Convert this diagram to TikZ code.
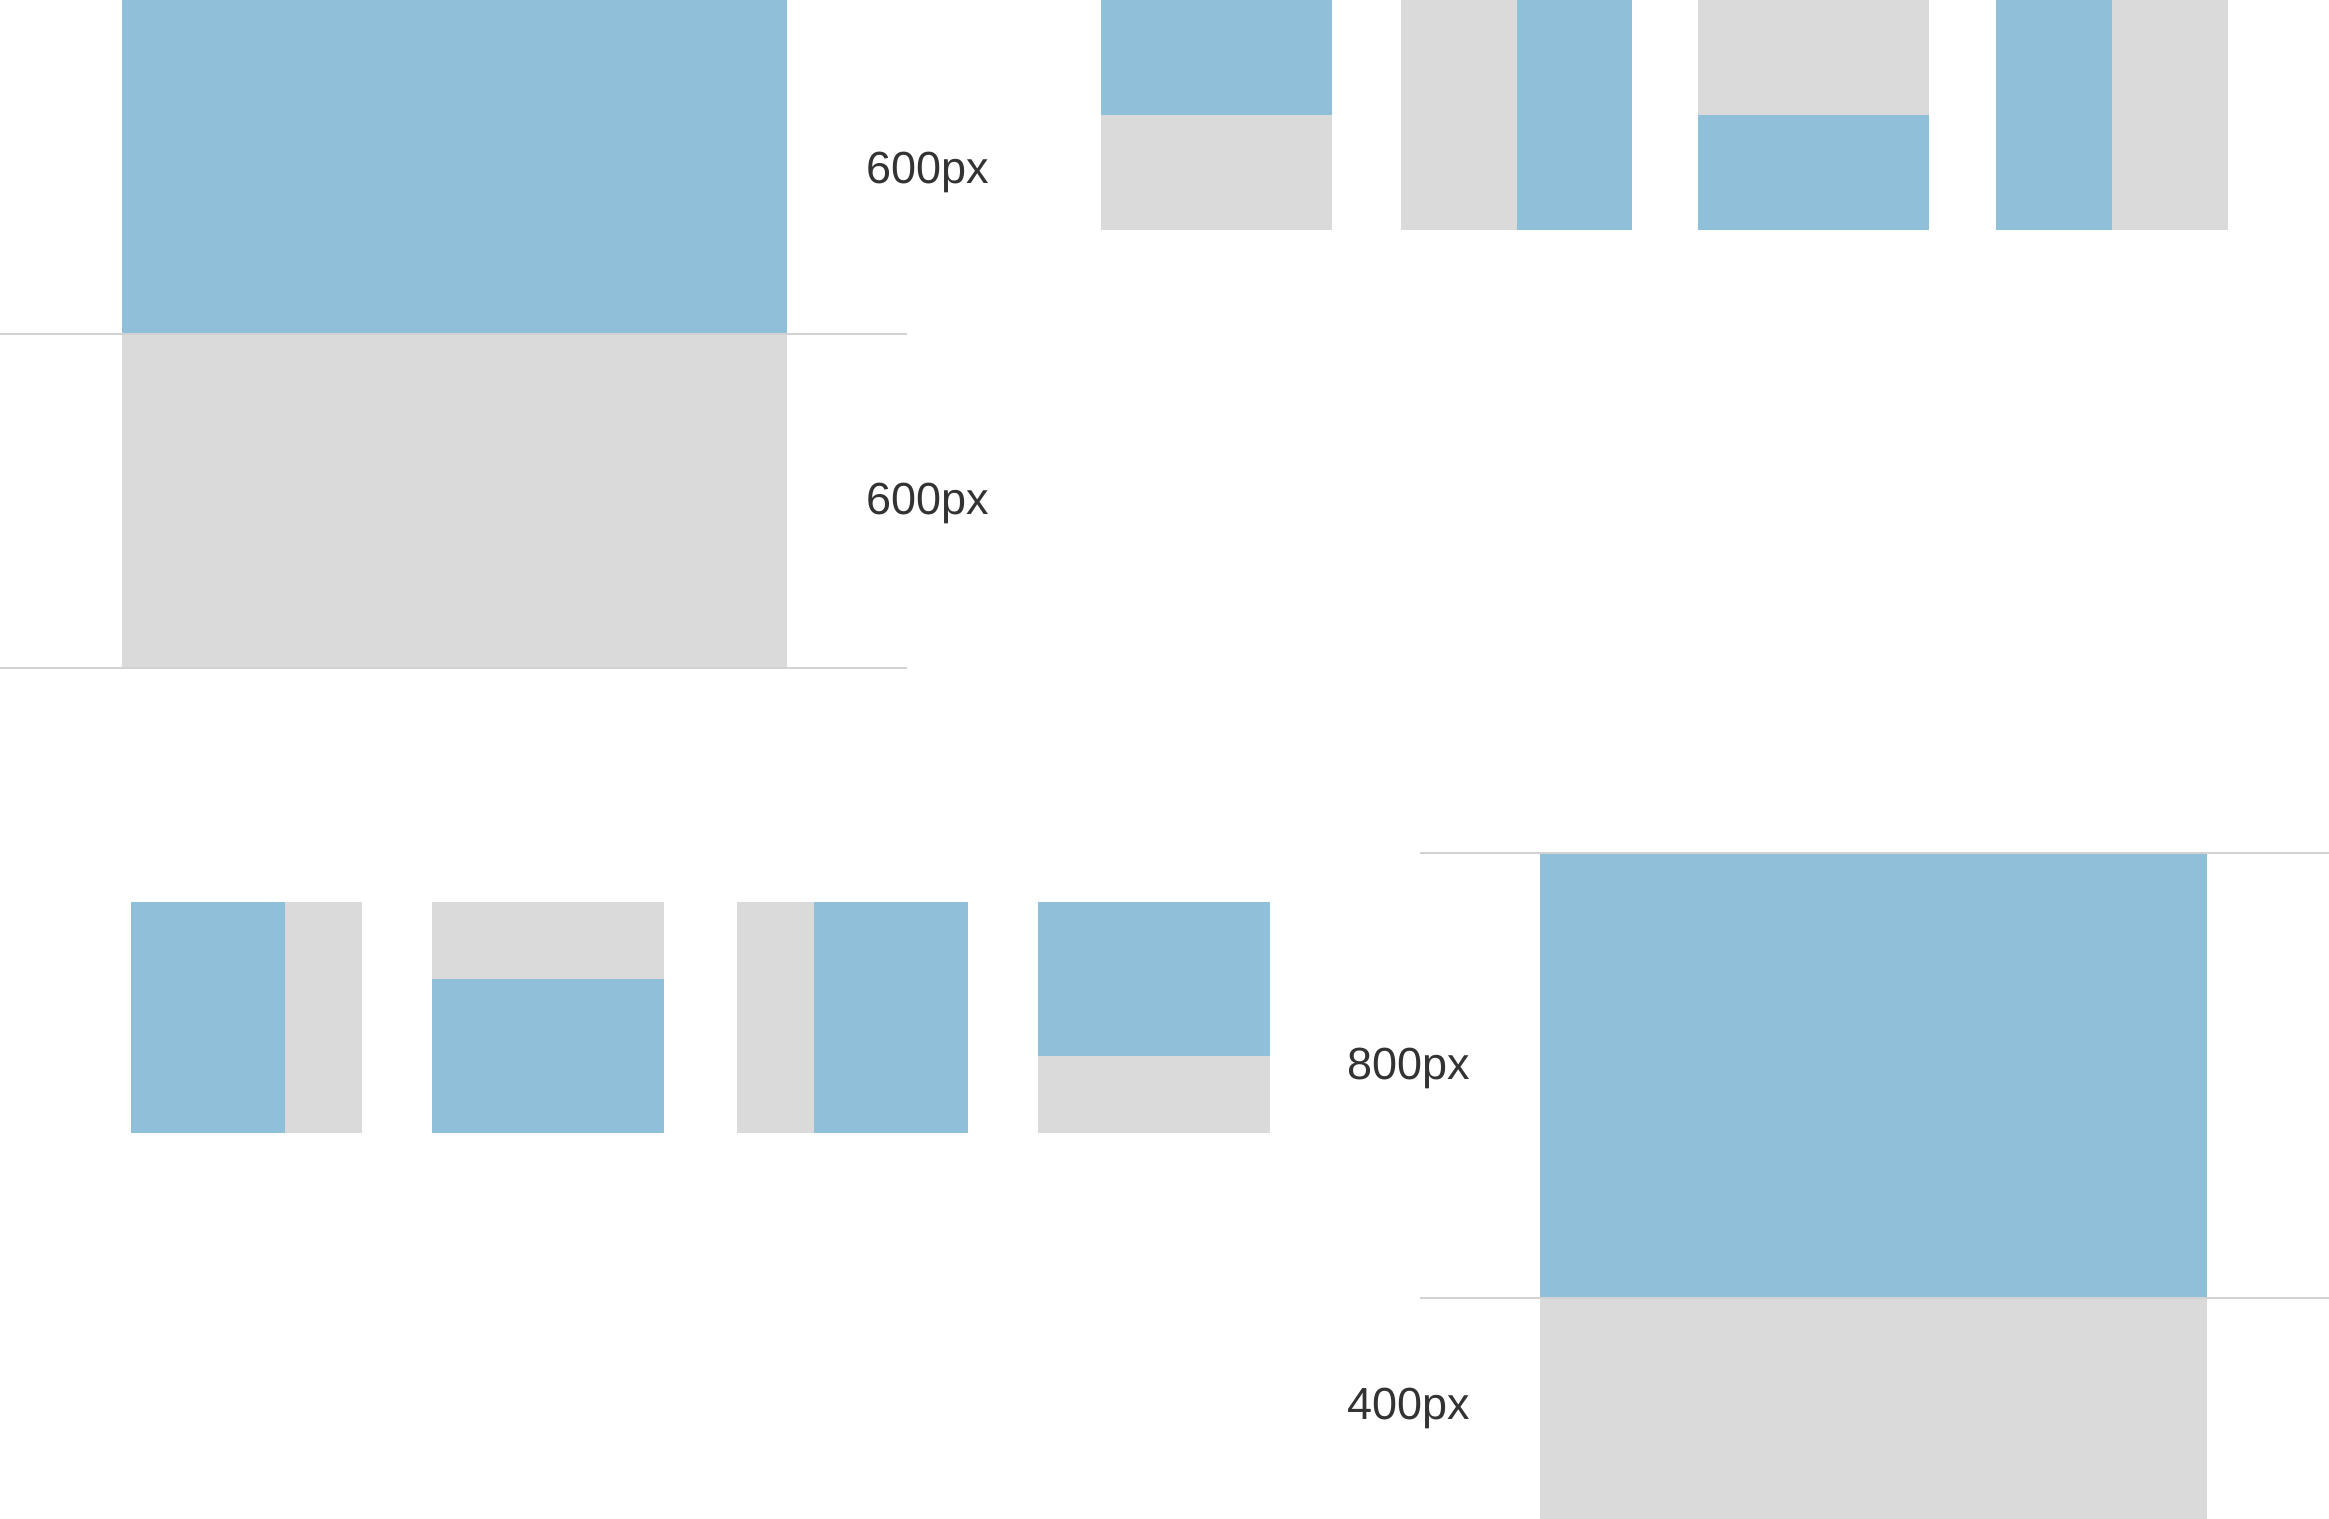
\documentclass[tikz,border=0pt]{standalone}
\usepackage{fontspec}
\setmainfont{Liberation Sans}
\usepackage{xcolor}
\definecolor{boxblue}{HTML}{8FBFD9}
\definecolor{boxgrey}{HTML}{DADADA}
\definecolor{ruleline}{HTML}{D2D2D2}
\definecolor{labelink}{HTML}{333333}

\begin{document}
\begin{tikzpicture}[x=0.01cm, y=-0.01cm,
                    every node/.style={labelink, inner sep=0pt, font=\fontsize{12.8}{14}\selectfont},
                    part/.style={fill=boxblue},
                    rest/.style={fill=boxgrey},
                    guide/.style={ruleline, line width=0.7pt}]

  \useasboundingbox (0,0) rectangle (2329,1519);

  %% large box, split 600 / 600
  \fill[part] (122,0) rectangle (787,334);
  \fill[rest] (122,334) rectangle (787,668);
  \draw[guide] (0,334) -- (907,334);
  \draw[guide] (0,668) -- (907,668);
  \node[anchor=west] (upperA) at (866,172) {600px};
  \node[anchor=west] (lowerA) at (866,503) {600px};

  %% small boxes, top row (halves)
  \fill[part] (1101,0) rectangle (1332,115);
  \fill[rest] (1101,115) rectangle (1332,230);

  \fill[rest] (1401,0) rectangle (1517,230);
  \fill[part] (1517,0) rectangle (1632,230);

  \fill[rest] (1698,0) rectangle (1929,115);
  \fill[part] (1698,115) rectangle (1929,230);

  \fill[part] (1996,0) rectangle (2112,230);
  \fill[rest] (2112,0) rectangle (2228,230);

  %% small boxes, bottom row (thirds)
  \fill[part] (131,902) rectangle (285,1133);
  \fill[rest] (285,902) rectangle (362,1133);

  \fill[rest] (432,902) rectangle (664,979);
  \fill[part] (432,979) rectangle (664,1133);

  \fill[rest] (737,902) rectangle (814,1133);
  \fill[part] (814,902) rectangle (968,1133);

  \fill[part] (1038,902) rectangle (1270,1056);
  \fill[rest] (1038,1056) rectangle (1270,1133);

  %% large box, split 800 / 400
  \fill[part] (1540,853) rectangle (2207,1298);
  \fill[rest] (1540,1298) rectangle (2207,1519);
  \draw[guide] (1420,853) -- (2329,853);
  \draw[guide] (1420,1298) -- (2329,1298);
  \node[anchor=west] (upperB) at (1347,1068) {800px};
  \node[anchor=west] (lowerB) at (1347,1408) {400px};

\end{tikzpicture}
\end{document}
